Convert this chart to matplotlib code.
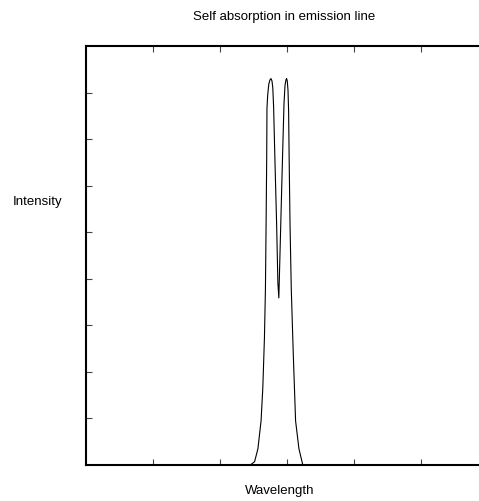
import matplotlib
matplotlib.use("Agg")
import matplotlib.pyplot as plt

plt.rcParams['font.family'] = ['Liberation Sans', 'DejaVu Sans']

# Data (x in wavelength tick units, y in intensity tick units)
wavelength = [0.0, 2.452, 2.516, 2.566, 2.613, 2.639, 2.663, 2.678, 2.688, 2.697, 2.701,
              2.712, 2.728, 2.745, 2.761, 2.776, 2.788, 2.800, 2.819, 2.845, 2.864,
              2.878, 2.888, 2.907, 2.933, 2.955, 2.970, 2.984, 2.994, 3.004, 3.015,
              3.024, 3.032, 3.045, 3.064, 3.094, 3.128, 3.178, 3.236, 3.275, 6.0]
intensity = [0.0, 0.0, 0.07, 0.35, 0.95, 1.66, 2.72, 3.77, 5.18, 6.60, 7.66,
             7.95, 8.18, 8.27, 8.30, 8.25, 8.10, 7.70, 6.60, 5.18, 3.91,
             3.59, 4.13, 5.18, 6.60, 7.75, 8.15, 8.27, 8.30, 8.25, 8.05,
             7.60, 6.60, 5.18, 3.77, 2.37, 0.95, 0.35, 0.0, 0.0, 0.0]
x_ticks = [1, 2, 3, 4, 5, 6]
y_ticks = [1, 2, 3, 4, 5, 6, 7, 8]

W, H = 479, 501
fig = plt.figure(figsize=(W / 100, H / 100), dpi=100)
left, right, top, bottom = 86, 488, 46, 465
ax = fig.add_axes([left / W, (H - bottom) / H, (right - left) / W, (bottom - top) / H])

ax.plot(wavelength, intensity, color='black', lw=0.8)
ax.set_xlim(0, 6)
ax.set_ylim(0, 9)
ax.set_xticks(x_ticks)
ax.set_yticks(y_ticks)
ax.set_xticklabels([])
ax.set_yticklabels([])
ax.tick_params(direction='in', length=4, width=0.8, color='#444444',
               top=True, bottom=True, left=True, right=False)
for s in ['left', 'bottom', 'top']:
    ax.spines[s].set_linewidth(1.5)
ax.spines['right'].set_visible(False)

fig.text(284 / W, 1 - 17 / H, 'Self absorption in emission line', ha='center', va='center', fontsize=9.5)
fig.text(38 / W, 1 - 202 / H, 'Intensity', ha='center', va='center', fontsize=9.5)
fig.text(280 / W, 1 - 491 / H, 'Wavelength', ha='center', va='center', fontsize=9.5)

fig.savefig('out.png', dpi=100)
